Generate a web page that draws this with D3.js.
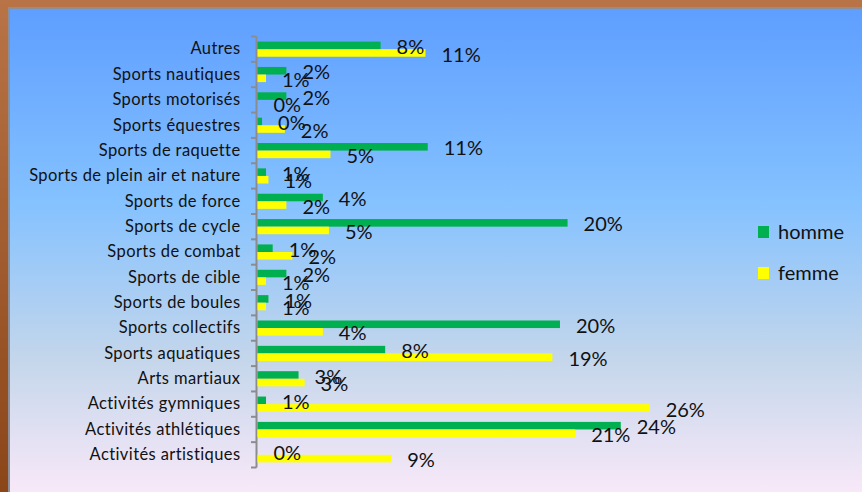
<!DOCTYPE html>
<html>
<head>
<meta charset="utf-8">
<script src="https://cdn.jsdelivr.net/npm/d3@7"></script>
<style>
  html, body { margin: 0; padding: 0; overflow: hidden; }
  text { font-family: Lato, "Open Sans", sans-serif; fill: #111; }
</style>
</head>
<body>
<script>
const width = 862;
const height = 492;

// categories, top to bottom
const categories = [
  "Autres", "Sports nautiques", "Sports motorisés", "Sports équestres",
  "Sports de raquette", "Sports de plein air et nature", "Sports de force",
  "Sports de cycle", "Sports de combat", "Sports de cible", "Sports de boules",
  "Sports collectifs", "Sports aquatiques", "Arts martiaux",
  "Activités gymniques", "Activités athlétiques", "Activités artistiques"
];
const seriesNames = ["homme", "femme"];
const homme = [0.081, 0.019, 0.019, 0.003, 0.112, 0.0056, 0.043, 0.204, 0.010,
  0.019, 0.0072, 0.199, 0.084, 0.027, 0.0056, 0.239, 0];
const femme = [0.1105, 0.0056, 0, 0.018, 0.048, 0.0072, 0.019, 0.047, 0.023,
  0.0056, 0.0056, 0.043, 0.194, 0.031, 0.258, 0.209, 0.088];
const colors = { homme: "#00b050", femme: "#ffff00" };

const data = categories.map((c, i) => ({ cat: c, homme: homme[i], femme: femme[i] }));

const svg = d3.select("body")
  .append("svg")
  .attr("width", width)
  .attr("height", height);

const defs = svg.append("defs");
const frame = defs.append("linearGradient")
  .attr("id", "frame").attr("x1", 0).attr("y1", 0).attr("x2", 0).attr("y2", 1);
frame.append("stop").attr("offset", "0%").attr("stop-color", "#b87346");
frame.append("stop").attr("offset", "100%").attr("stop-color", "#8a4519");

const bg = defs.append("linearGradient")
  .attr("id", "bg").attr("x1", 0).attr("y1", 0).attr("x2", 0).attr("y2", 1);
[["0%", "#5e9eff"], ["39%", "#85c2ff"], ["70%", "#c4d6eb"], ["100%", "#ffebfa"]]
  .forEach(s => bg.append("stop").attr("offset", s[0]).attr("stop-color", s[1]));

svg.append("rect")
  .attr("width", width).attr("height", height)
  .attr("fill", "url(#frame)");

svg.append("rect")
  .attr("x", 9).attr("y", 8)
  .attr("width", 900).attr("height", 502)
  .attr("fill", "url(#bg)")
  .attr("stroke", "#8c8f98")
  .attr("stroke-width", 2);

const x = d3.scaleLinear()
  .domain([0, 0.30])
  .range([257.5, 257.5 + 456]);

const y = d3.scaleBand()
  .domain(categories)
  .range([36.5, 467.5])
  .padding(0);

const y1 = d3.scaleBand()
  .domain(seriesNames)
  .range([5.1, y.bandwidth() - 5.1])
  .padding(0);

// category labels
const yAxis = d3.axisLeft(y).tickSize(0).tickPadding(16);
const axisG = svg.append("g")
  .attr("transform", "translate(256.5, 0)")
  .call(yAxis);
axisG.select(".domain").remove();
axisG.selectAll("text")
  .attr("font-size", 16.5)
  .attr("font-family", "Lato, sans-serif")
  .attr("letter-spacing", 0.4)
  .attr("fill", "#111");

// axis line and tick marks between categories
const edges = categories.map(c => y(c)).concat([y.range()[1]]);
svg.append("line")
  .attr("x1", 256.5).attr("x2", 256.5)
  .attr("y1", y.range()[0]).attr("y2", y.range()[1])
  .attr("stroke", "#8c8c8c").attr("stroke-width", 2);
svg.selectAll(".tk").data(edges).enter()
  .append("line")
  .attr("class", "tk")
  .attr("x1", 251).attr("x2", 256.5)
  .attr("y1", d => d).attr("y2", d => d)
  .attr("stroke", "#8c8c8c").attr("stroke-width", 2);

// bars
const groups = svg.selectAll(".grp").data(data).enter()
  .append("g")
  .attr("class", "grp")
  .attr("transform", d => `translate(0, ${y(d.cat)})`);

groups.selectAll("rect")
  .data(d => seriesNames.map(s => ({ s, v: d[s] })))
  .enter()
  .append("rect")
  .attr("x", x(0))
  .attr("y", d => y1(d.s))
  .attr("width", d => x(d.v) - x(0))
  .attr("height", y1.bandwidth())
  .attr("fill", d => colors[d.s]);

const fmt = d3.format(".0%");
groups.selectAll("text.lbl")
  .data(d => seriesNames.map(s => ({ s, v: d[s] })))
  .enter()
  .append("text")
  .attr("class", "lbl")
  .attr("x", d => x(d.v) + 16)
  .attr("y", d => y1(d.s) + y1.bandwidth() / 2)
  .attr("dy", "0.43em")
  .attr("font-size", 20)
  .text(d => fmt(d.v));

// legend
const legend = svg.append("g").attr("transform", "translate(758, 226)");
seriesNames.forEach((s, i) => {
  const row = legend.append("g").attr("transform", `translate(0, ${i * 41})`);
  row.append("rect")
    .attr("width", 11).attr("height", 12)
    .attr("fill", colors[s]);
  row.append("text")
    .attr("x", 20).attr("y", 13)
    .attr("font-size", 20)
    .text(s);
});
</script>
</body>
</html>
